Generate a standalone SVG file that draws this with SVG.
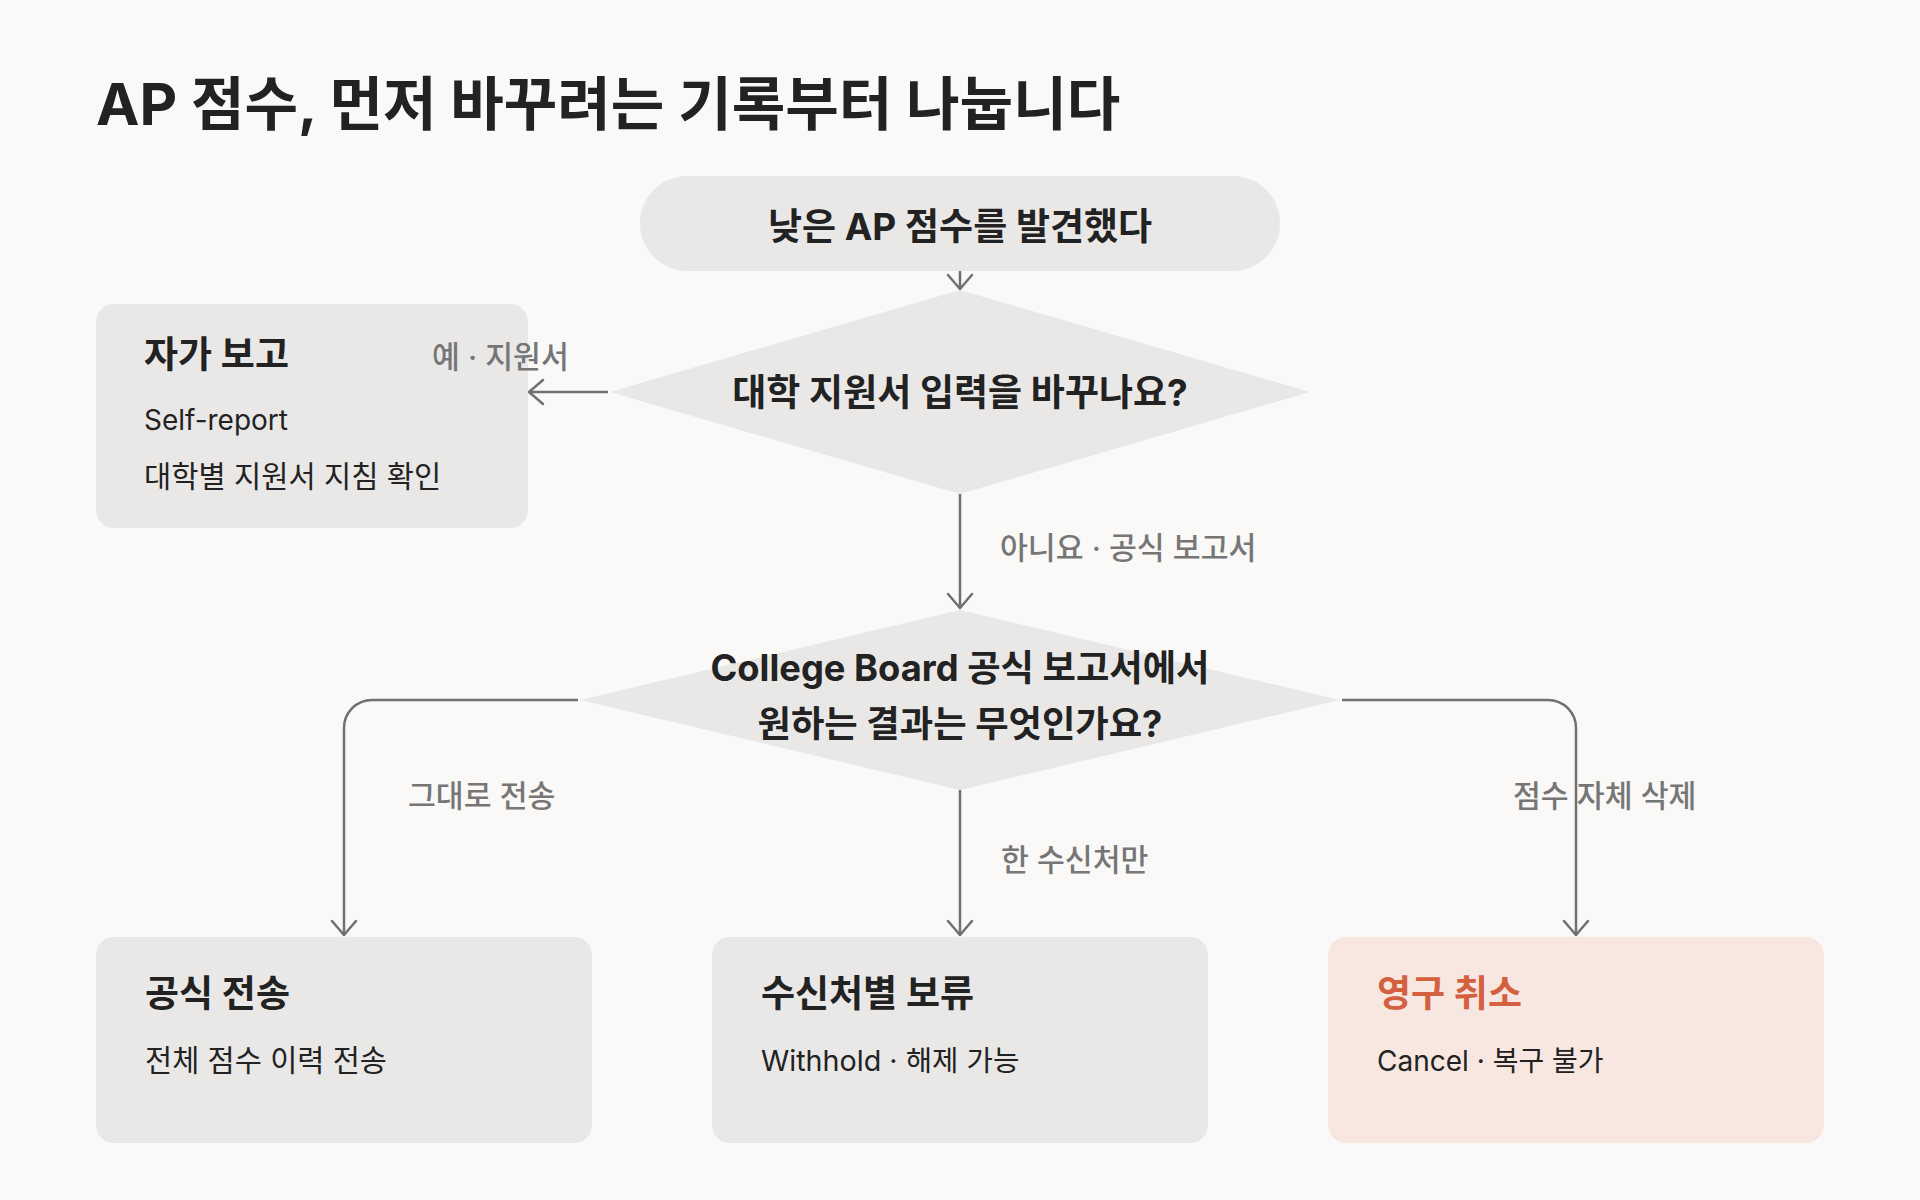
<svg xmlns="http://www.w3.org/2000/svg" width="1920" height="1200" viewBox="0 0 1920 1200">
<style>
text{font-family:"Inter","Noto Sans CJK KR","Noto Sans",sans-serif;fill:#222;}
.title{font-size:58.2px;font-weight:700;}
.ntext{font-size:37px;font-weight:700;text-anchor:middle;}
.btitle{font-size:37px;font-weight:700;}
.bsub{font-size:29.5px;font-weight:400;}
.lbl{font-size:30.3px;font-weight:500;fill:#767676;}
.node{fill:#e9e8e6;}
.warn{fill:#f7e7e0;}
.conn{fill:none;stroke:#707070;stroke-width:2.5;marker-end:url(#arr);}
</style>
<defs>
<marker id="arr" viewBox="-16 -14 20 28" refX="0" refY="0" markerWidth="20" markerHeight="28" markerUnits="userSpaceOnUse" orient="auto">
<path d="M-14,-12 L0,0 L-14,12" fill="none" stroke="#707070" stroke-width="2.5" stroke-linecap="round" stroke-linejoin="round"/>
</marker>
</defs>
<rect x="0" y="0" width="1920" height="1200" fill="#faf9f7"/>
<text class="title" x="96" y="125">AP 점수, 먼저 바꾸려는 기록부터 나눕니다</text>

<g id="start">
<rect class="node" x="640" y="176" width="640" height="95" rx="47.5"/>
<text class="ntext" x="960" y="240">낮은 AP 점수를 발견했다</text>
</g>
<g id="q1">
<polygon class="node" points="960,290 1310,392 960,494 610,392"/>
<text class="ntext" x="960" y="406">대학 지원서 입력을 바꾸나요?</text>
</g>
<g id="self-report">
<rect class="node" x="96" y="304" width="432" height="224" rx="18"/>
<text class="btitle" x="144" y="368">자가 보고</text>
<text class="bsub" x="144" y="430" style="font-size:28px">Self-report</text>
<text class="bsub" x="144" y="487" style="font-size:29.6px">대학별 지원서 지침 확인</text>
</g>
<g id="q2">
<polygon class="node" points="960,610 1340,700 960,790 580,700"/>
<text class="ntext" x="960" y="681" style="font-size:36.3px">College Board 공식 보고서에서</text>
<text class="ntext" x="960" y="737" style="font-size:36.3px">원하는 결과는 무엇인가요?</text>
</g>
<g id="send">
<rect class="node" x="96" y="937" width="496" height="206" rx="18"/>
<text class="btitle" x="145" y="1007">공식 전송</text>
<text class="bsub" x="145" y="1071">전체 점수 이력 전송</text>
</g>
<g id="withhold">
<rect class="node" x="712" y="937" width="496" height="206" rx="18"/>
<text class="btitle" x="761" y="1007">수신처별 보류</text>
<text class="bsub" x="761" y="1071" style="font-size:28.7px">Withhold · 해제 가능</text>
</g>
<g id="cancel">
<rect class="warn" x="1328" y="937" width="496" height="206" rx="18"/>
<text class="btitle" x="1377" y="1007" style="fill:#d4603f">영구 취소</text>
<text class="bsub" x="1377" y="1071" style="font-size:28px">Cancel · 복구 불가</text>
</g>

<g id="connectors">
<path class="conn" d="M960,271 V289"/>
<path class="conn" d="M608,392 H529"/>
<path class="conn" d="M960,494 V608"/>
<path class="conn" d="M578,700 H372 A28,28 0 0 0 344,728 V935"/>
<path class="conn" d="M960,790 V935"/>
<path class="conn" d="M1342,700 H1548 A28,28 0 0 1 1576,728 V935"/>
<text class="lbl" x="432" y="368">예 · 지원서</text>
<text class="lbl" x="1000" y="559">아니요 · 공식 보고서</text>
<text class="lbl" x="408" y="807">그대로 전송</text>
<text class="lbl" x="1001" y="871">한 수신처만</text>
<text class="lbl" x="1513" y="807">점수 자체 삭제</text>
</g>
</svg>
